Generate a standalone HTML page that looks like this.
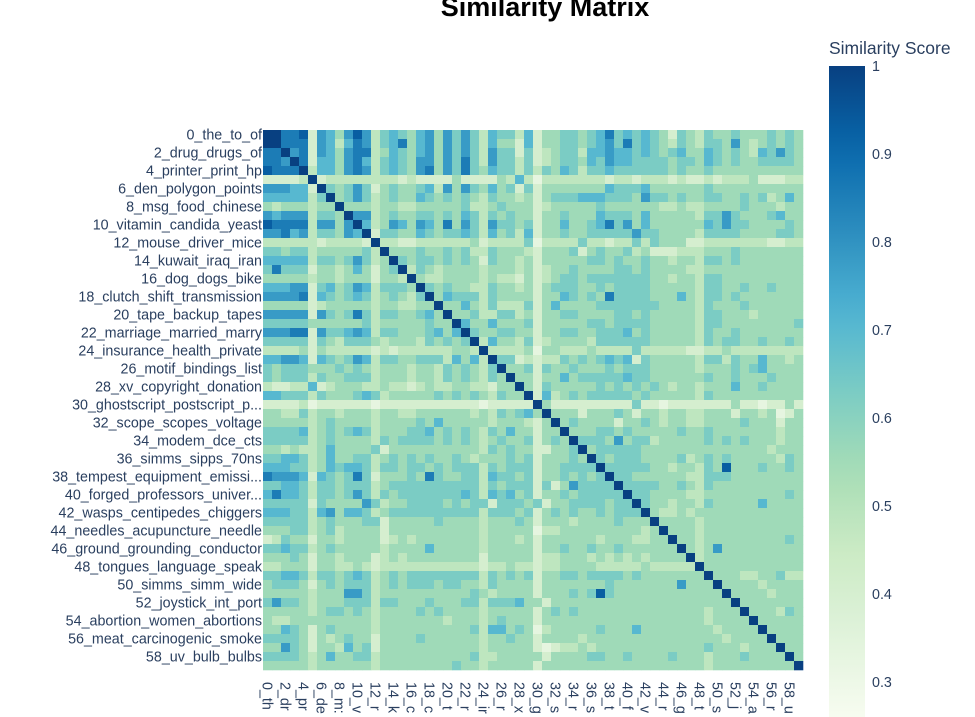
<!DOCTYPE html>
<html><head><meta charset="utf-8">
<style>
html,body{margin:0;padding:0;background:#fff;width:975px;height:717px;overflow:hidden}
svg{display:block;font-family:"Liberation Sans",sans-serif}
</style></head>
<body>
<svg id="chart" width="975" height="717" viewBox="0 0 975 717">
<text x="545" y="16" text-anchor="middle" font-size="27" font-weight="bold" fill="#000">Similarity Matrix</text>
<g id="cells"></g>
<g id="ylabels"></g>
<g id="xlabels"></g>
<defs><linearGradient id="cbg" x1="0" y1="1" x2="0" y2="0"></linearGradient></defs>
<text x="829" y="54" font-size="17.5" fill="#2a3f5f">Similarity Score</text>
<rect x="829" y="66" width="36" height="651" fill="url(#cbg)"></rect>
<g id="cbticks"></g>
</svg>
<script>
const topicLabels = ["0_the_to_of","2_drug_drugs_of","4_printer_print_hp","6_den_polygon_points","8_msg_food_chinese","10_vitamin_candida_yeast","12_mouse_driver_mice","14_kuwait_iraq_iran","16_dog_dogs_bike","18_clutch_shift_transmission","20_tape_backup_tapes","22_marriage_married_marry","24_insurance_health_private","26_motif_bindings_list","28_xv_copyright_donation","30_ghostscript_postscript_p...","32_scope_scopes_voltage","34_modem_dce_cts","36_simms_sipps_70ns","38_tempest_equipment_emissi...","40_forged_professors_univer...","42_wasps_centipedes_chiggers","44_needles_acupuncture_needle","46_ground_grounding_conductor","48_tongues_language_speak","50_simms_simm_wide","52_joystick_int_port","54_abortion_women_abortions","56_meat_carcinogenic_smoke","58_uv_bulb_bulbs"];
const xTickLabels = ["0_th","2_dr","4_pr","6_de","8_m:","10_v","12_r","14_k","16_c","18_c","20_t","22_r","24_ir","26_r","28_x","30_g","32_s","34_r","36_s","38_t","40_f","42_v","44_r","46_g","48_t","50_s","52_j","54_a","56_r","58_u"];
const colorTicks = [0.3,0.4,0.5,0.6,0.7,0.8,0.9,1];
// lower-triangle similarity levels (value = 0.33 + 0.075*digit), row i has i entries
const lowerRows = [
"",
"9",
"77",
"776",
"8777",
"11112",
"666551",
"5555524",
"32333233",
"656662443",
"8777726636",
"66756244365",
"222222122221",
"4434423333342",
"55555244346423",
"474441332353134",
"3333323323331332",
"55566145346524443",
"666671543454234324",
"3333312333332332233",
"66666164347424433453",
"444443333334233333433",
"6667716445652443334535",
"44444143244432333243434",
"222231322222121222222332",
"5566515434652443344425352",
"43444333434323332332434324",
"434442433444233323324343243",
"2112251233322322123223322133",
"55444243334542333334343432433",
"111120111111011111111111011111",
"3322423323332332233333323243453",
"33333234333323333435333332333213",
"444452343454233344534343243533133",
"4444423433332434444343432343341343",
"33232235333341333333333324343311334",
"445542353344234343433432333434133343",
"5554423545542443443434442434441334444",
"76665154347413334374334425443413343434",
"445542443444234444444444243444141364444",
"5755424434642434444444542545341334344444",
"44444143333642334444343441444341334444344",
"555442563554234444444444244434134343343444",
"4444423433344133333433332333431333233334333",
"33344234233331333333333323333302233333333323",
"124331332333312323333333233323133333323332233",
"4454423433333233335333332333331334334334333333",
"33343133233312323333333313333312233323232323333",
"223331332232122222222222122322122333322222322222",
"4455424434542343444444442434341334434444343333333",
"34443134344423434443443324333313333333433333336333",
"333332333664233333333334323333133343484333333333333",
"4644323334442443334333442444533133333333333333333333",
"33333234434323333434333323333313434333333333333332333",
"322333333333233333332333234333133333333333333333323333",
"33543134333323333333333425534302333334333533333333233333",
"444431323433133334333333233433133332333333333333333233333",
"3364313325341333333333332333331012232333333333333433323334",
"44443235334423333333333422333331333344334333343332333433333",
"333332333333233333333433233333133333333333333333323333333333"
];
const zmin = 0.26, zmax = 1.0;
const gnbu = [[0,[247,252,240]],[0.125,[224,243,219]],[0.25,[204,235,197]],[0.375,[168,221,181]],[0.5,[123,204,196]],[0.625,[78,179,211]],[0.75,[43,140,190]],[0.875,[8,104,172]],[1,[8,64,129]]];
const NS="http://www.w3.org/2000/svg";
const X0=263, Y0=130, CELL=9, N=60;
function xPos(j){return X0+j*CELL;}
function yPos(i){return Y0+i*CELL;}
function level(d){return 0.33+0.075*d;}
function color(v){
  let t=Math.max(0,Math.min(1,(v-zmin)/(zmax-zmin)));
  for(let k=1;k<gnbu.length;k++){
    if(t<=gnbu[k][0]){
      const a=gnbu[k-1],b=gnbu[k],f=(t-a[0])/(b[0]-a[0]);
      const c=a[1].map((x,m)=>Math.round(x+(b[1][m]-x)*f));
      return `rgb(${c[0]},${c[1]},${c[2]})`;
    }
  }
  return "rgb(8,64,129)";
}
function val(i,j){
  if(i===j) return 1;
  if(j<i) return level(+lowerRows[i][j]);
  return level(+lowerRows[j][i]);
}
const cells=document.getElementById('cells');
for(let i=0;i<N;i++){for(let j=0;j<N;j++){
  const r=document.createElementNS(NS,'rect');
  r.setAttribute('x',xPos(j));r.setAttribute('y',yPos(i));
  r.setAttribute('width',CELL+0.3);r.setAttribute('height',CELL+0.3);
  r.setAttribute('fill',color(val(i,j)));
  
  
  cells.appendChild(r);
}}
const yl=document.getElementById('ylabels');
topicLabels.forEach((t,k)=>{
  const el=document.createElementNS(NS,'text');
  el.setAttribute('x',X0-1);el.setAttribute('y',yPos(2*k)+CELL/2+5);
  el.setAttribute('text-anchor','end');el.setAttribute('font-size','14.3');el.setAttribute('fill','#2a3f5f');
  el.textContent=t;
  
  
  yl.appendChild(el);
});
const xl=document.getElementById('xlabels');
xTickLabels.forEach((t,k)=>{
  const cx=xPos(2*k)+CELL/2, y=682;
  const el=document.createElementNS(NS,'text');
  el.setAttribute('x',cx);el.setAttribute('y',y);
  el.setAttribute('transform',`rotate(90 ${cx} ${y}) translate(0 5)`);
  el.setAttribute('font-size','14.3');el.setAttribute('fill','#2a3f5f');
  el.textContent=t;
  
  
  xl.appendChild(el);
});
const grad=document.getElementById('cbg');
for(let k=0;k<=20;k++){
  const v=zmin+(zmax-zmin)*k/20;
  const s=document.createElementNS(NS,'stop');
  s.setAttribute('offset',(k/20));s.setAttribute('stop-color',color(v));
  grad.appendChild(s);
}
const cb=document.getElementById('cbticks');
function cbY(v){return 66+(zmax-v)/(zmax-zmin)*651;}
colorTicks.forEach(v=>{
  const el=document.createElementNS(NS,'text');
  el.setAttribute('x',872);el.setAttribute('y',cbY(v)+5);
  el.setAttribute('font-size','14.3');el.setAttribute('fill','#2a3f5f');
  el.textContent=(v===1?'1':v.toFixed(1));
  
  
  cb.appendChild(el);
});
</script>
</body></html>
